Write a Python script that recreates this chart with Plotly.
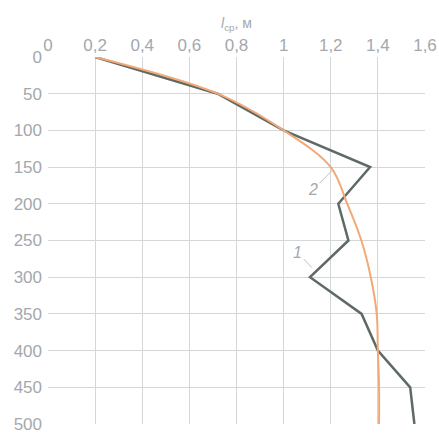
import plotly.graph_objects as go

depth = [0, 50, 100, 150, 200, 250, 300, 350, 400, 450, 500]
curve1 = [0.2, 0.72, 1.0, 1.367, 1.232, 1.275, 1.112, 1.331, 1.40, 1.537, 1.555]
curve2 = [0.2, 0.72, 1.0, 1.2, 1.27, 1.33, 1.37, 1.395, 1.40, 1.405, 1.405]

x_ticks = [0, 0.2, 0.4, 0.6, 0.8, 1.0, 1.2, 1.4]
x_ticktext = ["0", "0,2", "0,4", "0,6", "0,8", "1", "1,2", "1,4"]
x_last = [1.6]
x_last_text = ["1,6"]
y_ticks = [0, 50, 100, 150, 200, 250, 300, 350, 400, 450]
y_last = [500]

grid_c = "#d3d7da"
text_c = "#a4a8ac"
font_f = "Liberation Sans, Arial, sans-serif"
tick_font = dict(size=17, color=text_c, family=font_f)

fig = go.Figure()
fig.add_trace(go.Scatter(x=curve1, y=depth, mode="lines",
                         line=dict(color="#5e6a64", width=2.5),
                         showlegend=False, xaxis="x", yaxis="y"))
fig.add_trace(go.Scatter(x=curve2, y=depth, mode="lines",
                         line=dict(color="#f3a878", width=2, shape="spline", smoothing=1.0),
                         showlegend=False, xaxis="x2", yaxis="y2"))

fig.add_annotation(x=1.12, y=287, ax=-14, ay=-15, text="<i>1</i>", showarrow=True,
                   arrowhead=0, arrowwidth=1, arrowcolor="#bcc0c4",
                   font=dict(size=16, color=text_c, family=font_f))
fig.add_annotation(x=1.205, y=155, ax=-19, ay=19, text="<i>2</i>", showarrow=True,
                   arrowhead=0, arrowwidth=1, arrowcolor="#bcc0c4",
                   font=dict(size=16, color=text_c, family=font_f))
fig.add_annotation(xref="paper", yref="paper", x=0.5, y=1.09, yanchor="middle",
                   text="<i>l</i><sub>ср</sub>, м", showarrow=False,
                   font=dict(size=14, color=text_c, family=font_f))

fig.update_layout(
    width=439, height=433, margin=dict(l=48, r=14, t=57, b=9),
    plot_bgcolor="white", paper_bgcolor="white",
    xaxis=dict(range=[0, 1.6], side="top", tickvals=x_ticks, ticktext=x_ticktext,
               showgrid=True, gridcolor=grid_c, gridwidth=1.2, zeroline=False,
               showline=False, ticks="", tickfont=tick_font, automargin=False,
               ticklabelstandoff=2),
    xaxis2=dict(range=[0, 1.6], side="top", overlaying="x", anchor="y2",
                tickvals=x_last, ticktext=x_last_text, showgrid=False, zeroline=False,
                showline=False, ticks="", tickfont=tick_font, automargin=False,
                ticklabelstandoff=2, ticklabeloverflow="allow"),
    yaxis=dict(range=[500, 0], tickvals=y_ticks,
               showgrid=True, gridcolor=grid_c, gridwidth=1.2, zeroline=False,
               showline=False, ticks="", tickfont=tick_font, automargin=False,
               ticklabelstandoff=5),
    yaxis2=dict(range=[500, 0], overlaying="y", anchor="x2", side="left", tickvals=y_last,
                showgrid=False, zeroline=False, showline=False,
                ticks="inside", ticklen=3, tickcolor=grid_c, tickwidth=1.2,
                tickfont=tick_font, automargin=False, ticklabelstandoff=5,
                ticklabeloverflow="allow"),
)

# remove the page's default 8px body margin so the figure fills the window exactly
fig.write_html("out.html", config={"displayModeBar": False},
               post_script="document.body.style.margin='0';document.body.style.overflow='hidden';")
